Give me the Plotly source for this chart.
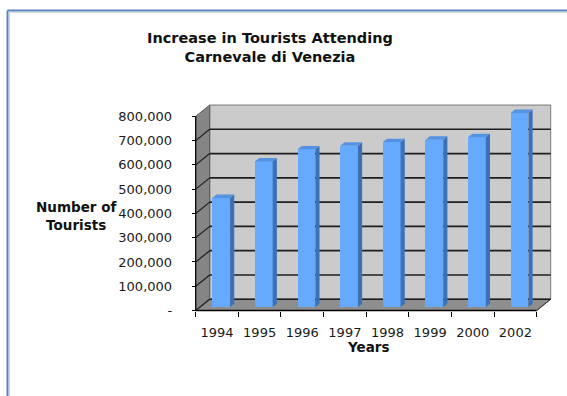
import plotly.graph_objects as go

# ---- data ----
years = ["1994", "1995", "1996", "1997", "1998", "1999", "2000", "2002"]
tourists = [450000, 600000, 650000, 665000, 680000, 690000, 700000, 800000]
y_ticks = [0, 100000, 200000, 300000, 400000, 500000, 600000, 700000, 800000]
y_tick_text = ["-", "100,000", "200,000", "300,000", "400,000",
               "500,000", "600,000", "700,000", "800,000"]

# ---- page geometry (pixels) ----
W, H = 567, 396
FRONT_LEFT_PX = 195.7      # left edge of the front plane
CAT_PX = 42.625            # width of one category
ZERO_PX = 310.5            # baseline of the front plane
VAL_PX = 0.0002427         # pixels per tourist
PLOT_L, PLOT_R, PLOT_T, PLOT_B = 185, 560, 98, 318

# pseudo-3D depth of the box (data units)
DX = 14.0 / CAT_PX
DY = 11.3 / VAL_PX
# bars sit between these depth fractions
BF, BB = 0.30, 0.60
BAR_W = 0.415

n = len(years)
xs = list(range(n))
x_lo, x_hi = -0.5, n - 0.5
top = y_ticks[-1]

x_range = [x_lo - (FRONT_LEFT_PX - PLOT_L) / CAT_PX,
           x_lo + (PLOT_R - FRONT_LEFT_PX) / CAT_PX]
y_range = [(ZERO_PX - PLOT_B) / VAL_PX, (ZERO_PX - PLOT_T) / VAL_PX]

fig = go.Figure()

# front faces of the columns
fig.add_trace(go.Bar(
    x=[x + BF * DX for x in xs], y=tourists, base=BF * DY, width=BAR_W,
    marker=dict(color="#66aaff", line=dict(width=0)), hoverinfo="skip"))

# side and top faces of the columns
d = (BB - BF)
side_x, side_y, cap_x, cap_y = [], [], [], []
for x, v in zip(xs, tourists):
    xl = x + BF * DX - BAR_W / 2
    xr = x + BF * DX + BAR_W / 2
    b0 = BF * DY
    t0 = b0 + v
    side_x += [xr, xr, xr + d * DX, xr + d * DX, xr, None]
    side_y += [b0, t0, t0 + d * DY, b0 + d * DY, b0, None]
    cap_x += [xl, xr, xr + d * DX, xl + d * DX, xl, None]
    cap_y += [t0, t0, t0 + d * DY, t0 + d * DY, t0, None]

fig.add_trace(go.Scatter(x=side_x, y=side_y, mode="lines", fill="toself",
                         fillcolor="#3d71b6", line=dict(width=0),
                         hoverinfo="skip"))
fig.add_trace(go.Scatter(x=cap_x, y=cap_y, mode="lines", fill="toself",
                         fillcolor="#5592e2", line=dict(width=0),
                         hoverinfo="skip"))

shapes = []


def poly(pts, fill, line_color=None, lw=0):
    path = "M " + " L ".join(f"{a},{b}" for a, b in pts) + " Z"
    shapes.append(dict(type="path", path=path, xref="x", yref="y",
                       fillcolor=fill, layer="below",
                       line=dict(color=line_color or fill, width=lw)))


def seg(x0, y0, x1, y1, color, lw, layer="below"):
    shapes.append(dict(type="line", x0=x0, y0=y0, x1=x1, y1=y1,
                       xref="x", yref="y", layer=layer,
                       line=dict(color=color, width=lw)))


# back wall
poly([(x_lo + DX, DY), (x_hi + DX, DY), (x_hi + DX, top + DY),
      (x_lo + DX, top + DY)], "#cbcbcb", "#7a7a7a", 1)
# left side wall
poly([(x_lo, 0), (x_lo + DX, DY), (x_lo + DX, top + DY), (x_lo, top)],
     "#858585", "#5a5a5a", 1)
# floor
poly([(x_lo, 0), (x_hi, 0), (x_hi + DX, DY), (x_lo + DX, DY)],
     "#8e8e8e", "#6a6a6a", 1)

# gridlines across the back wall and the side wall
for v in y_ticks[:-1]:
    seg(x_lo + DX, v + DY, x_hi + DX, v + DY, "#1e1e1e", 1.6)
    seg(x_lo, v, x_lo + DX, v + DY, "#1e1e1e", 1.2)

# front edges of the box
seg(x_lo, 0, x_lo, top, "#000000", 1.2)
seg(x_lo, 0, x_hi, 0, "#000000", 1.6)
seg(x_hi, 0, x_hi + DX, DY, "#333333", 1)

# page frame
shapes += [
    dict(type="line", xref="paper", yref="paper", x0=7.5 / W, x1=1,
         y0=1 - 10.5 / H, y1=1 - 10.5 / H,
         line=dict(color="#5b84bd", width=2)),
    dict(type="line", xref="paper", yref="paper", x0=7.5 / W, x1=7.5 / W,
         y0=0, y1=1 - 10.5 / H, line=dict(color="#5b84bd", width=2)),
    dict(type="line", xref="paper", yref="paper", x0=9.5 / W, x1=1,
         y0=1 - 12.5 / H, y1=1 - 12.5 / H,
         line=dict(color="#d6d6d6", width=1)),
    dict(type="line", xref="paper", yref="paper", x0=9.5 / W, x1=9.5 / W,
         y0=0, y1=1 - 12.5 / H, line=dict(color="#d6d6d6", width=1)),
]

FONT = "DejaVu Sans"
annotations = [
    dict(text="<b>Increase in Tourists Attending<br>Carnevale di Venezia</b>",
         xref="paper", yref="paper", x=270 / W, y=1 - 47 / H,
         xanchor="center", yanchor="middle", showarrow=False,
         font=dict(family=FONT, size=14.5, color="#111111")),
    dict(text="<b>Number of<br>Tourists</b>",
         xref="paper", yref="paper", x=75.5 / W, y=1 - 216 / H,
         xanchor="center", yanchor="middle", showarrow=False,
         font=dict(family=FONT, size=13.5, color="#111111")),
    dict(text="<b>Years</b>",
         xref="paper", yref="paper", x=368 / W, y=1 - 347 / H,
         xanchor="center", yanchor="middle", showarrow=False,
         font=dict(family=FONT, size=13.5, color="#111111")),
]

fig.update_layout(
    width=W, height=H,
    margin=dict(l=0, r=0, t=0, b=0),
    paper_bgcolor="white", plot_bgcolor="rgba(0,0,0,0)",
    showlegend=False, bargap=0,
    shapes=shapes, annotations=annotations,
    xaxis=dict(domain=[PLOT_L / W, PLOT_R / W], range=x_range,
               anchor="free", position=1 - ZERO_PX / H,
               tickvals=xs, ticktext=years, ticks="outside", ticklen=0,
               ticklabelstandoff=10,
               minor=dict(tickvals=[i - 0.5 for i in range(n + 1)],
                          ticks="outside", ticklen=5, tickcolor="#000000",
                          tickwidth=1, showgrid=False),
               showgrid=False, zeroline=False, showline=False,
               tickfont=dict(family=FONT, size=13, color="#1a1a1a"),
               fixedrange=True),
    yaxis=dict(domain=[1 - PLOT_B / H, 1 - PLOT_T / H], range=y_range,
               anchor="free", position=FRONT_LEFT_PX / W,
               tickvals=y_ticks, ticktext=y_tick_text,
               ticks="outside", ticklen=4, tickcolor="#000000",
               ticklabelstandoff=17,
               showgrid=False, zeroline=False, showline=False,
               tickfont=dict(family=FONT, size=13, color="#1a1a1a"),
               fixedrange=True),
)

fig.write_html("out.html")
